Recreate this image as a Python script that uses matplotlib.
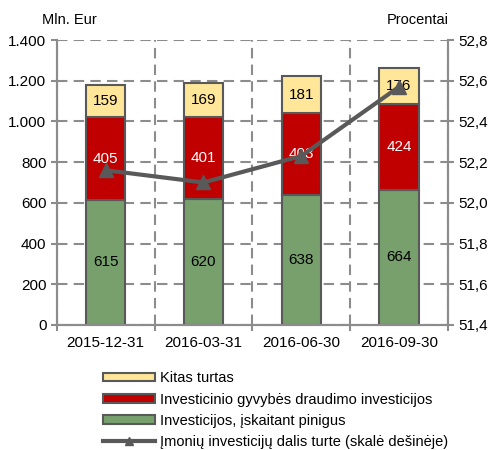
import numpy as np
import matplotlib
matplotlib.use("Agg")
import matplotlib.pyplot as plt
from matplotlib.ticker import FuncFormatter

plt.rcParams['font.family'] = ['Liberation Sans Narrow', 'Liberation Sans', 'DejaVu Sans']

dates = ["2015-12-31", "2016-03-31", "2016-06-30", "2016-09-30"]
invest = [615, 620, 638, 664]
life_inv = [405, 401, 403, 424]
other = [159, 169, 181, 176]
share = [52.16, 52.10, 52.23, 52.57]

labels = ["Kitas turtas",
          "Investicinio gyvybės draudimo investicijos",
          "Investicijos, įskaitant pinigus",
          "Įmonių investicijų dalis turte (skalė dešinėje)"]

c_green = "#77A06D"
c_red = "#C00000"
c_yellow = "#FFE699"
c_edge = "#595959"
c_grid = "#8C8C8C"

fig = plt.figure(figsize=(4.9, 4.5), dpi=100)
ax = fig.add_axes([0.116, 0.278, 0.798, 0.633])
ax2 = ax.twinx()

x = np.arange(len(dates))
w = 0.4
b1 = ax.bar(x, invest, w, color=c_green, edgecolor=c_edge, linewidth=1.5, zorder=3)
b2 = ax.bar(x, life_inv, w, bottom=invest, color=c_red, edgecolor=c_edge, linewidth=1.5, zorder=3)
bot3 = np.array(invest) + np.array(life_inv)
b3 = ax.bar(x, other, w, bottom=bot3, color=c_yellow, edgecolor=c_edge, linewidth=1.5, zorder=3)

fs = 11
for i in range(len(x)):
    ax.text(x[i], invest[i] / 2, str(invest[i]), ha='center', va='center', fontsize=fs, zorder=4)
    ax.text(x[i], invest[i] + life_inv[i] / 2, str(life_inv[i]), ha='center', va='center',
            fontsize=fs, color='white', zorder=4)
    ax.text(x[i], bot3[i] + other[i] / 2, str(other[i]), ha='center', va='center', fontsize=fs, zorder=4)

ln, = ax2.plot(x, share, color=c_edge, linewidth=3, marker='^', markersize=10, zorder=5)

ax.set_xlim(-0.5, 3.5)
ax.set_ylim(0, 1400)
ax.set_yticks(np.arange(0, 1401, 200))
ax.yaxis.set_major_formatter(FuncFormatter(lambda v, p: f"{int(v):,}".replace(",", ".")))
ax2.set_ylim(51.4, 52.8)
ax2.set_yticks(np.arange(51.4, 52.81, 0.2))
ax2.yaxis.set_major_formatter(FuncFormatter(lambda v, p: f"{v:.1f}".replace(".", ",")))

ax.set_xticks(x)
ax.set_xticklabels(dates)
ax.set_xticks([-0.5, 0.5, 1.5, 2.5, 3.5], minor=True)
ax.tick_params(axis='x', which='major', length=0, pad=8, labelsize=fs)
ax.tick_params(axis='x', which='minor', length=4, color=c_grid, width=1.5)
ax.tick_params(axis='y', length=4, color=c_grid, width=1.5, labelsize=fs)
ax2.tick_params(axis='y', length=4, color=c_grid, width=1.5, labelsize=fs)

ax.grid(axis='y', which='major', color=c_grid, linestyle=(0, (5, 3)), linewidth=1.5, zorder=0)
ax.grid(axis='x', which='minor', color=c_grid, linestyle=(0, (5, 3)), linewidth=1.5, zorder=0)
ax.set_axisbelow(True)

for a in (ax, ax2):
    a.spines['top'].set_visible(False)
    for s in ('left', 'right', 'bottom'):
        a.spines[s].set_color(c_grid)
        a.spines[s].set_linewidth(1.5)

ax.set_zorder(ax2.get_zorder() - 1)
ax.patch.set_visible(False)

fig.text(0.085, 0.955, "Mln. Eur", fontsize=10.5, va='center')
fig.text(0.915, 0.955, "Procentai", fontsize=10.5, va='center', ha='right')

fig.legend([b3, b2, b1, ln], labels, loc='upper left', bbox_to_anchor=(0.21, 0.175),
           frameon=False, fontsize=10.5, handlelength=3.6, handleheight=0.55,
           labelspacing=0.5, handletextpad=0.3, borderpad=0, borderaxespad=0,
           markerscale=0.6)

fig.savefig("out.png", dpi=100)
